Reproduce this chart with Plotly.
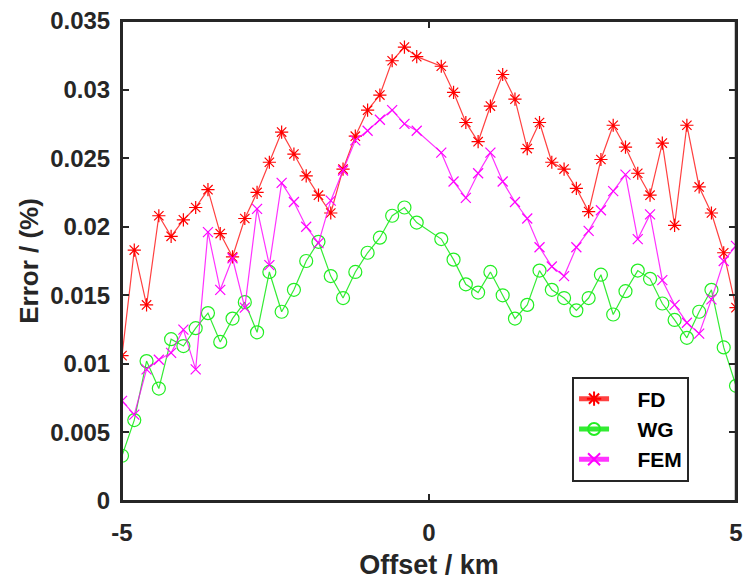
import plotly.graph_objects as go

offset_km = [-5.0, -4.8, -4.6, -4.4, -4.2, -4.0, -3.8, -3.6, -3.4, -3.2,
             -3.0, -2.8, -2.6, -2.4, -2.2, -2.0, -1.8, -1.6, -1.4, -1.2,
             -1.0, -0.8, -0.6, -0.4, -0.2, 0.2, 0.4, 0.6, 0.8, 1.0,
             1.2, 1.4, 1.6, 1.8, 2.0, 2.2, 2.4, 2.6, 2.8, 3.0,
             3.2, 3.4, 3.6, 3.8, 4.0, 4.2, 4.4, 4.6, 4.8, 5.0]

fd_error = [0.0106, 0.0183, 0.0143, 0.0208, 0.0193, 0.0205, 0.0214, 0.0227, 0.0195, 0.0178,
            0.0206, 0.0225, 0.0247, 0.0269, 0.0253, 0.0237, 0.0223, 0.0210, 0.0242, 0.0266,
            0.0285, 0.0296, 0.0321, 0.0331, 0.0324, 0.0317, 0.0298, 0.0276, 0.0262, 0.0288,
            0.0311, 0.0293, 0.0257, 0.0276, 0.0247, 0.0242, 0.0228, 0.0211, 0.0249, 0.0274,
            0.0258, 0.0239, 0.0223, 0.0261, 0.0201, 0.0274, 0.0229, 0.0210, 0.0181, 0.0141]

wg_error = [0.0033, 0.0059, 0.0102, 0.0082, 0.0118, 0.0113, 0.0126, 0.0137, 0.0116, 0.0133,
            0.0145, 0.0123, 0.0167, 0.0138, 0.0154, 0.0175, 0.0189, 0.0164, 0.0148, 0.0167,
            0.0181, 0.0192, 0.0208, 0.0214, 0.0203, 0.0191, 0.0176, 0.0158, 0.0152, 0.0167,
            0.0150, 0.0133, 0.0143, 0.0168, 0.0154, 0.0148, 0.0139, 0.0148, 0.0165, 0.0136,
            0.0153, 0.0168, 0.0162, 0.0144, 0.0132, 0.0119, 0.0138, 0.0154, 0.0112, 0.0084]

fem_error = [0.0073, 0.0063, 0.0096, 0.0103, 0.0108, 0.0125, 0.0096, 0.0196, 0.0154, 0.0177,
             0.0141, 0.0213, 0.0172, 0.0232, 0.0218, 0.0200, 0.0188, 0.0219, 0.0241, 0.0263,
             0.0270, 0.0278, 0.0285, 0.0275, 0.0270, 0.0254, 0.0233, 0.0221, 0.0239, 0.0254,
             0.0233, 0.0218, 0.0206, 0.0185, 0.0171, 0.0164, 0.0185, 0.0197, 0.0212, 0.0226,
             0.0238, 0.0191, 0.0209, 0.0161, 0.0143, 0.0130, 0.0122, 0.0147, 0.0175, 0.0186]

series_names = ["FD", "WG", "FEM"]

x_tick_vals = [-5, 0, 5]
x_tick_text = ["-5", "0", "5"]
y_tick_vals = [0, 0.005, 0.01, 0.015, 0.02, 0.025, 0.03, 0.035]
y_tick_text = ["0", "0.005", "0.01", "0.015", "0.02", "0.025", "0.03", "0.035"]

axis_color = "#262626"
font_family = "Liberation Sans, Arial, Helvetica, sans-serif"
pad = "\u00a0" * 4

fig = go.Figure()
fig.add_trace(go.Scatter(
    x=offset_km, y=fd_error, name=pad + series_names[0], mode="lines+markers",
    line=dict(color="rgba(255,0,0,0.75)", width=1.2),
    marker=dict(symbol="asterisk-open", size=11, color="#FF0000",
                line=dict(color="#FF0000", width=1.2)),
))
fig.add_trace(go.Scatter(
    x=offset_km, y=wg_error, name=pad + series_names[1], mode="lines+markers",
    line=dict(color="rgba(0,230,0,0.8)", width=1.2),
    marker=dict(symbol="circle-open", size=13, color="#22EE22",
                line=dict(color="#22EE22", width=1.2)),
))
fig.add_trace(go.Scatter(
    x=offset_km, y=fem_error, name=pad + series_names[2], mode="lines+markers",
    line=dict(color="rgba(255,0,255,0.8)", width=1.2),
    marker=dict(symbol="x-thin-open", size=10, color="#FF00FF",
                line=dict(color="#FF00FF", width=1.2)),
))

axis_common = dict(
    showline=True, linecolor=axis_color, linewidth=2, mirror="ticks",
    ticks="inside", ticklen=7, tickwidth=2, tickcolor=axis_color,
    showgrid=False, zeroline=False, ticklabeloverflow="allow",
    tickfont=dict(family=font_family, size=24, color=axis_color, weight="bold"),
)

fig.update_layout(
    width=743, height=581,
    margin=dict(l=122, r=7, t=21, b=80, autoexpand=False),
    paper_bgcolor="white", plot_bgcolor="white",
    font=dict(family=font_family, color=axis_color),
    xaxis=dict(
        range=[-5, 5], tickvals=x_tick_vals, ticktext=x_tick_text,
        ticklabelstandoff=9,
        title=dict(text="Offset / km", standoff=10,
                   font=dict(family=font_family, size=27, color=axis_color, weight="bold")),
        automargin=False,
        **axis_common,
    ),
    yaxis=dict(
        range=[0, 0.035], tickvals=y_tick_vals, ticktext=y_tick_text,
        ticklabelstandoff=5,
        title=dict(text="Error / (%)", standoff=4,
                   font=dict(family=font_family, size=26, color=axis_color, weight="bold")),
        automargin=False,
        **axis_common,
    ),
    shapes=[
        dict(type="rect", xref="paper", yref="paper",
             x0=0, x1=1, y0=0, y1=1, layer="above",
             line=dict(color=axis_color, width=2)),
        dict(type="line", xref="paper", yref="paper",
             x0=1, x1=1, y0=0, y1=1, layer="above",
             line=dict(color=axis_color, width=2.5)),
    ],
    legend=dict(
        x=0.733, y=0.15, xanchor="left", yanchor="middle",
        bgcolor="white", bordercolor=axis_color, borderwidth=2,
        font=dict(family=font_family, size=21, color="black", weight="bold"),
        itemsizing="constant",
    ),
    showlegend=True,
)

fig.write_html(
    "out.html",
    config={"displayModeBar": False},
    post_script="document.body.style.margin='0';document.body.style.overflow='hidden';",
)
